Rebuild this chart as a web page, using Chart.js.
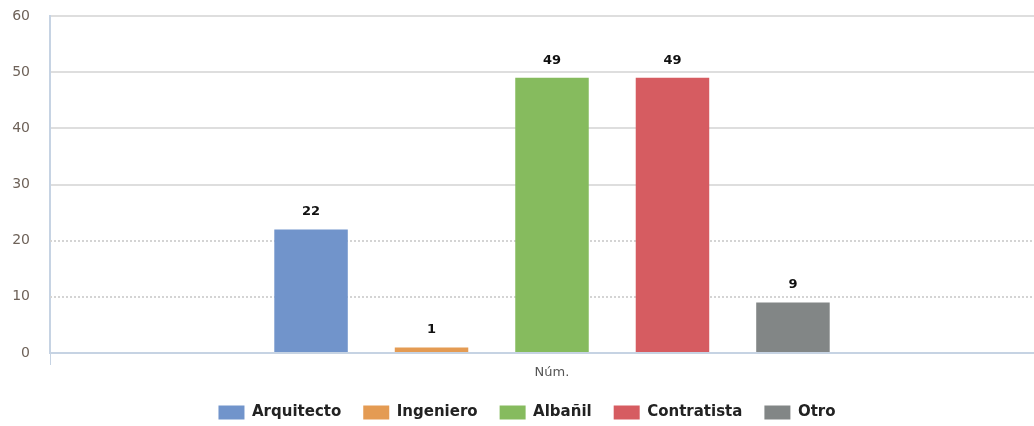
<!DOCTYPE html>
<html>
<head>
<meta charset="utf-8">
<script src="https://cdn.jsdelivr.net/npm/chart.js@4/dist/chart.umd.min.js"></script>
<style>
  html, body { margin: 0; padding: 0; background: #fff; overflow: hidden; }
  #wrap { width: 1054px; height: 426px; }
</style>
</head>
<body>
<div id="wrap"><canvas id="chart"></canvas></div>
<script>
const categories = ['Núm.'];
const seriesNames = ['Arquitecto', 'Ingeniero', 'Albañil', 'Contratista', 'Otro'];
const seriesValues = [22, 1, 49, 49, 9];
const seriesColors = ['#7194cb', '#e49b53', '#86bb5e', '#d65c61', '#828686'];
const dottedLines = [10, 20];

// dotted grid lines at 10 and 20, drawn under the bars
const dottedGrid = {
  id: 'dottedGrid',
  beforeDatasetsDraw(chart) {
    const {ctx, chartArea, scales} = chart;
    ctx.save();
    ctx.strokeStyle = '#d4d4d4';
    ctx.lineWidth = 2;
    ctx.setLineDash([2, 2]);
    dottedLines.forEach(v => {
      const y = Math.round(scales.y.getPixelForValue(v));
      ctx.beginPath();
      ctx.moveTo(chartArea.left, y);
      ctx.lineTo(chartArea.right, y);
      ctx.stroke();
    });
    ctx.restore();
  }
};

// value labels above each bar
const valueLabels = {
  id: 'valueLabels',
  afterDatasetsDraw(chart) {
    const {ctx} = chart;
    ctx.save();
    ctx.font = 'bold 13px "DejaVu Sans"';
    ctx.fillStyle = '#111';
    ctx.textAlign = 'center';
    ctx.textBaseline = 'bottom';
    chart.data.datasets.forEach((ds, i) => {
      chart.getDatasetMeta(i).data.forEach((bar, j) => {
        ctx.fillText(ds.data[j], bar.x, bar.y - 11);
      });
    });
    ctx.restore();
  }
};

new Chart(document.getElementById('chart'), {
  type: 'bar',
  data: {
    labels: categories,
    datasets: seriesNames.map((name, i) => ({
      label: name,
      data: [seriesValues[i]],
      backgroundColor: seriesColors[i],
      borderWidth: 0,
      categoryPercentage: 0.6,
      barPercentage: 0.61
    }))
  },
  options: {
    responsive: true,
    maintainAspectRatio: false,
    animation: false,
    layout: { padding: { top: 16, right: 0, left: 0, bottom: -4 } },
    plugins: {
      tooltip: { enabled: false },
      legend: {
        position: 'bottom',
        labels: {
          boxWidth: 26,
          boxHeight: 14,
          padding: 22,
          color: '#222',
          font: { family: '"DejaVu Sans"', size: 15, weight: 'bold' }
        }
      }
    },
    scales: {
      x: {
        afterFit: scale => { scale.height = 30; },
        grid: {
          drawOnChartArea: false,
          tickLength: 12,
          color: '#c6d3e3'
        },
        border: { color: '#c6d3e3', width: 2 },
        ticks: {
          padding: 0,
          color: '#555',
          font: { family: '"DejaVu Sans"', size: 13 }
        }
      },
      y: {
        min: 0,
        max: 60,
        afterFit: scale => {
          scale.width = 50;
          scale.paddingTop = 0;
          scale.paddingBottom = 0;
        },
        ticks: {
          stepSize: 10,
          padding: 20,
          color: '#6e6259',
          font: { family: '"DejaVu Sans"', size: 14 }
        },
        grid: {
          drawTicks: false,
          lineWidth: 2,
          color: ctx => {
            const v = ctx.tick ? ctx.tick.value : null;
            if (v === 0) return '#c6d3e3';
            if (dottedLines.includes(v)) return 'rgba(0,0,0,0)';
            return '#dedede';
          }
        },
        border: { color: '#c6d3e3', width: 2 }
      }
    }
  },
  plugins: [dottedGrid, valueLabels]
});
</script>
</body>
</html>
